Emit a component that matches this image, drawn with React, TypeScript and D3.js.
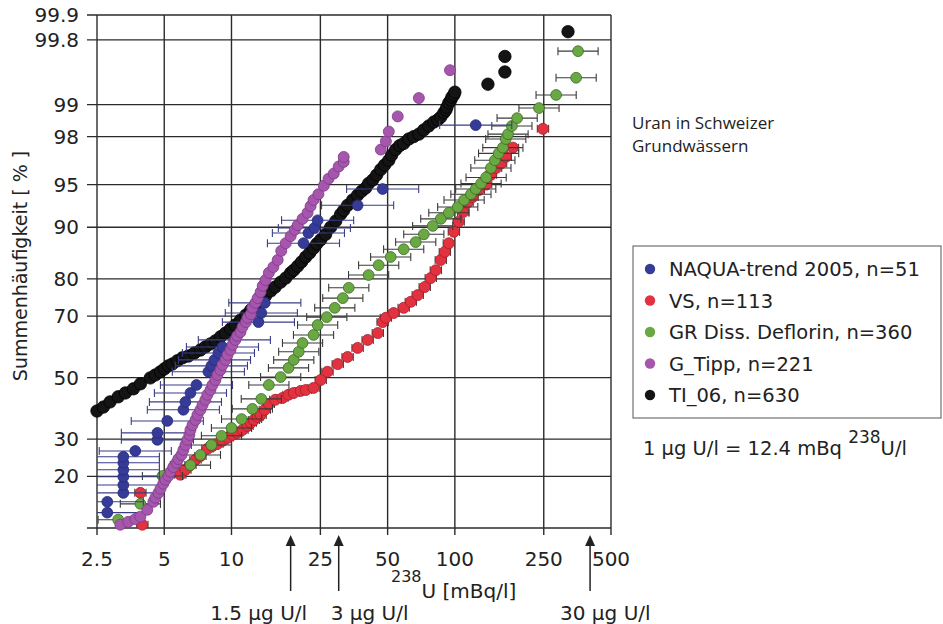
import React from "react";
import * as d3 from "d3";

// cumulative frequency plot: [238U in mBq/l, cumulative %]
const naqua: [number, number][] = [
  [2.78, 12.5], [2.78, 14.5], [3.28, 16.3], [3.28, 18.0], [3.28, 19.9], [3.28, 21.6], [3.28, 23.4],
  [3.28, 25.0], [3.71, 26.6], [4.66, 29.8], [4.66, 31.9], [5.16, 35.6], [6.09, 39.2], [6.22, 41.8],
  [6.55, 44.8], [6.97, 47.5], [7.88, 52.0], [8.13, 54.0], [8.39, 56.0], [8.74, 58.3], [9.11, 60.3],
  [10.3, 62.6], [13.2, 68.2], [13.6, 70.9], [14.1, 73.8], [21.0, 87.4], [22.1, 89.1], [23.5, 89.9],
  [24.3, 91.0], [36.7, 92.9], [47.5, 94.6], [124, 98.43],
];

const vs: [number, number][] = [
  [3.99, 10.5], [3.91, 16.3], [5.9, 20.4], [6.22, 21.6], [6.55, 22.8], [6.9, 24.2], [7.26, 25.2],
  [7.8, 27.2], [8.22, 28.0], [8.65, 28.6], [9.11, 29.5], [9.6, 30.4], [10.1, 31.3], [10.6, 31.9],
  [11.2, 32.8], [11.8, 34.0], [12.2, 35.0], [12.6, 35.9], [13.1, 36.9], [13.5, 37.5], [14.1, 39.2],
  [14.7, 41.1], [15.7, 42.5], [16.9, 43.1], [18.0, 44.2], [19.0, 44.8], [20.4, 45.5], [21.5, 45.8],
  [23.3, 46.5], [25.1, 49.2], [26.9, 52.0], [29.9, 54.6], [33.1, 57.0], [36.7, 60.0], [40.7, 62.6],
  [45.2, 64.8], [47.5, 68.2], [49.1, 69.5], [53.2, 70.9], [59.0, 72.4], [63.5, 74.1], [68.2, 75.9],
  [73.3, 78.0], [78.0, 80.2], [82.2, 82.0], [86.5, 84.2], [90.2, 85.8], [94.0, 87.4], [99.0, 89.3],
  [104, 90.8], [109, 92.1], [114, 93.2], [120, 93.8], [128, 94.5], [138, 95.0], [145, 95.8],
  [153, 96.3], [161, 96.6], [169, 97.0], [182, 97.5], [248, 98.3],
];

const grDeflorin: [number, number][] = [
  [3.11, 11.3], [3.91, 14.1], [4.91, 20.1], [6.55, 22.8], [7.26, 25.5], [8.13, 28.3], [9.02, 31.0],
  [10.0, 33.4], [11.1, 36.2], [12.4, 39.5], [13.6, 42.8], [14.7, 47.5], [16.6, 50.2], [18.0, 53.3],
  [19.0, 56.0], [20.0, 58.7], [20.8, 61.6], [23.3, 64.2], [24.3, 67.3], [26.7, 69.7], [29.0, 72.4],
  [31.5, 75.1], [33.5, 77.8], [41.1, 80.9], [45.6, 83.1], [51.6, 84.8], [59.0, 86.3], [66.8, 87.6],
  [72.6, 88.9], [79.6, 90.2], [86.5, 91.2], [94.0, 92.0], [103, 92.7], [110, 93.5], [118, 94.1],
  [124, 94.6], [131, 95.1], [138, 95.6], [145, 96.3], [151, 96.8], [157, 97.2], [164, 97.5],
  [169, 97.9], [173, 98.1], [180, 98.4], [190, 98.65], [238, 98.92], [284, 99.2], [349, 99.47],
  [356, 99.73],
];

const gTipp: [number, number][] = [
  [3.18, 10.5], [3.45, 10.95], [3.71, 11.4], [3.91, 11.8], [4.2, 13.0], [4.47, 14.5], [4.56, 15.3],
  [4.71, 16.3], [4.81, 17.2], [4.95, 18.3], [5.06, 19.2], [5.22, 20.1], [5.33, 21.1], [5.49, 22.3],
  [5.67, 23.4], [5.78, 24.4], [5.97, 25.5], [6.09, 26.9], [6.22, 28.3], [6.35, 29.8], [6.48, 31.3],
  [6.55, 32.8], [6.69, 34.3], [6.9, 35.9], [7.04, 37.5], [7.26, 39.2], [7.42, 40.8], [7.64, 42.5],
  [7.8, 44.2], [8.05, 45.8], [8.22, 47.5], [8.47, 49.2], [8.65, 50.9], [8.93, 52.6], [9.11, 54.3],
  [9.4, 56.0], [9.6, 57.7], [9.9, 59.3], [10.1, 61.0], [10.4, 62.6], [10.6, 63.9], [10.97, 65.1],
  [11.2, 66.7], [11.6, 68.2], [11.8, 69.5], [12.2, 70.6], [12.4, 72.4], [12.8, 73.8], [13.1, 75.1],
  [13.5, 76.7], [13.8, 78.3], [14.2, 79.7], [14.7, 81.4], [15.4, 82.7], [16.1, 84.2], [16.7, 86.0],
  [17.5, 87.4], [18.4, 88.6], [19.2, 89.6], [19.8, 90.3], [20.8, 91.2], [21.9, 92.0], [22.6, 92.8],
  [23.3, 93.5], [24.5, 94.1], [25.9, 94.9], [27.2, 95.5], [28.7, 95.9], [30.2, 96.4], [31.8, 96.7],
  [31.8, 97.0], [46.6, 97.4], [49.1, 97.8], [50.6, 98.2], [55.5, 98.7], [69.0, 99.14], [95.1, 99.56],
];

const ti06: [number, number][] = [
  [2.5, 38.8], [2.67, 40.1], [2.86, 41.8], [3.11, 43.5], [3.35, 44.8], [3.64, 46.2], [3.91, 47.9],
  [4.33, 49.9], [4.56, 50.9], [4.81, 52.0], [5.01, 53.0], [5.22, 54.0], [5.43, 54.6], [5.72, 55.7],
  [6.03, 56.7], [6.41, 57.3], [6.82, 58.3], [7.26, 59.3], [7.64, 60.3], [8.05, 61.3], [8.47, 62.3],
  [8.93, 63.6], [9.4, 64.8], [9.9, 66.1], [10.4, 67.3], [10.97, 68.8], [11.6, 70.3], [12.2, 71.8],
  [12.8, 73.2], [13.5, 74.6], [14.2, 75.7], [15.0, 77.0], [15.7, 78.0], [16.6, 79.2], [17.5, 80.2],
  [18.4, 81.4], [19.0, 82.0], [19.8, 82.9], [20.6, 83.8], [21.5, 84.8], [22.4, 85.6], [23.3, 86.5],
  [24.1, 87.3], [25.1, 88.0], [26.4, 88.9], [27.8, 90.0], [29.3, 90.9], [30.8, 91.8], [31.8, 92.3],
  [33.1, 92.9], [34.9, 93.5], [36.7, 94.0], [38.3, 94.4], [39.9, 94.7], [41.1, 95.1], [42.9, 95.4],
  [44.7, 95.8], [46.6, 96.2], [48.5, 96.5], [50.6, 96.8], [52.1, 97.1], [54.3, 97.4], [56.6, 97.6],
  [59.0, 97.7], [62.2, 97.9], [65.4, 98.0], [69.0, 98.1], [72.6, 98.26], [76.4, 98.4], [80.5, 98.53],
  [83.9, 98.6], [86.5, 98.68], [89.3, 98.8], [91.2, 98.87], [92.1, 98.94], [94.0, 99.04], [96.0, 99.1],
  [97.0, 99.16], [99.0, 99.2], [100, 99.25], [140.6, 99.38], [167.5, 99.54], [167.5, 99.69], [321, 99.84],
];

const xTicks = [2.5, 5, 10, 25, 50, 100, 250, 500];
const yTicks = [20, 30, 50, 70, 80, 90, 95, 98, 99, 99.8, 99.9];
const arrowValues = [18.4, 30.2, 403];
const arrowLabels = ["1.5 µg U/l", "3 µg U/l", "30 µg U/l"];

// inverse normal cdf (Acklam)
function probit(p: number) {
  const a = [-39.69683028665376, 220.9460984245205, -275.9285104469687, 138.357751867269, -30.66479806614716, 2.506628277459239];
  const b = [-54.47609879822406, 161.5858368580409, -155.6989798598866, 66.80131188771972, -13.28068155288572];
  const c = [-0.007784894002430293, -0.3223964580411365, -2.400758277161838, -2.549732539343734, 4.374664141464968, 2.938163982698783];
  const d = [0.007784695709041462, 0.3224671290700398, 2.445134137142996, 3.754408661907416];
  const pl = 0.02425;
  if (p < pl) {
    const q = Math.sqrt(-2 * Math.log(p));
    return (((((c[0] * q + c[1]) * q + c[2]) * q + c[3]) * q + c[4]) * q + c[5]) / ((((d[0] * q + d[1]) * q + d[2]) * q + d[3]) * q + 1);
  }
  if (p > 1 - pl) {
    const q = Math.sqrt(-2 * Math.log(1 - p));
    return -(((((c[0] * q + c[1]) * q + c[2]) * q + c[3]) * q + c[4]) * q + c[5]) / ((((d[0] * q + d[1]) * q + d[2]) * q + d[3]) * q + 1);
  }
  const q = p - 0.5;
  const r = q * q;
  return ((((((a[0] * r + a[1]) * r + a[2]) * r + a[3]) * r + a[4]) * r + a[5]) * q) / (((((b[0] * r + b[1]) * r + b[2]) * r + b[3]) * r + b[4]) * r + 1);
}

const W = 943;
const H = 624;
const plot = { left: 97, right: 611, top: 15, bottom: 528 };
const FONT = "'DejaVu Sans', Verdana, sans-serif";
const GRID = "#2b2b2b";

const x = d3.scaleLog().domain([2.5, 500]).range([plot.left, plot.right]);
const z = d3.scaleLinear().domain([probit(0.1), probit(0.999)]).range([plot.bottom, plot.top]);
const y = (p: number) => z(probit(p / 100));

const legend = [
  { label: "NAQUA-trend 2005, n=51", fill: "#363b98" },
  { label: "VS, n=113", fill: "#e2323f" },
  { label: "GR Diss. Deflorin, n=360", fill: "#6aa843" },
  { label: "G_Tipp, n=221", fill: "#a657ad" },
  { label: "TI_06, n=630", fill: "#141414" },
];

// drawing order (back to front)
const series = [
  { data: ti06, fill: "#141414", stroke: "#000", r: 6.2, err: 0, errColor: "" },
  { data: vs, fill: "#e2323f", stroke: "#a81c28", r: 5.5, err: 1.06, errColor: "#444" },
  { data: grDeflorin, fill: "#6aa843", stroke: "#3d6a22", r: 5.4, err: 1.23, errColor: "#3a3a3a" },
  { data: naqua, fill: "#363b98", stroke: "#262a78", r: 5.4, err: 1.45, errColor: "#3a3c88" },
  { data: gTipp, fill: "#a657ad", stroke: "#7c3a86", r: 5.5, err: 0, errColor: "" },
];

export default function App() {
  return (
    <svg width={W} height={H} style={{ position: "absolute", left: 0, top: 0, background: "#fff" }}>
      <defs>
        <clipPath id="plotClip">
          <rect x={plot.left} y={plot.top} width={plot.right - plot.left} height={plot.bottom - plot.top} />
        </clipPath>
      </defs>

      {/* grid */}
      {xTicks.map((t) => (
        <g key={"x" + t}>
          <line x1={x(t)} x2={x(t)} y1={plot.top} y2={plot.bottom + 7} stroke={GRID} strokeWidth={1.4} />
          <text x={x(t)} y={566} textAnchor="middle" fontFamily={FONT} fontSize={20} fill="#222">{t}</text>
        </g>
      ))}
      {yTicks.map((t) => (
        <g key={"y" + t}>
          <line x1={plot.left - 10} x2={plot.right} y1={y(t)} y2={y(t)} stroke={GRID} strokeWidth={1.4} />
          <text x={79} y={y(t) + 7} textAnchor="end" fontFamily={FONT} fontSize={20} fill="#222">{t}</text>
        </g>
      ))}
      <line x1={plot.left - 10} x2={plot.right} y1={plot.bottom} y2={plot.bottom} stroke={GRID} strokeWidth={1.6} />

      {/* series */}
      {series.map((s, i) => (
        <g key={i}>
          {s.err > 0 && (
            <g clipPath="url(#plotClip)" stroke={s.errColor} strokeWidth={1.1}>
              {s.data.map(([v, p], j) => {
                const x0 = x(v / s.err);
                const x1 = x(v * s.err);
                const yy = y(p);
                return (
                  <g key={j}>
                    <line x1={x0} x2={x1} y1={yy} y2={yy} />
                    <line x1={x0} x2={x0} y1={yy - 4} y2={yy + 4} />
                    <line x1={x1} x2={x1} y1={yy - 4} y2={yy + 4} />
                  </g>
                );
              })}
            </g>
          )}
          {s.data.map(([v, p], j) => (
            <circle key={j} cx={x(v)} cy={y(p)} r={s.r} fill={s.fill} stroke={s.stroke} strokeWidth={0.8} />
          ))}
        </g>
      ))}

      {/* axis titles */}
      <text transform="translate(27,266) rotate(-90)" textAnchor="middle" fontFamily={FONT} fontSize={19} fill="#222">
        Summenhäufigkeit [ % ]
      </text>
      <text x={391} y={598} fontFamily={FONT} fill="#222">
        <tspan fontSize={16} dy={-16}>238</tspan>
        <tspan fontSize={20} dy={16}>U [mBq/l]</tspan>
      </text>

      {/* reference arrows */}
      {arrowValues.map((v, i) => {
        const ax = x(v);
        const tx = i === 0 ? ax - 32 : i === 1 ? ax - 8 : ax - 30;
        return (
          <g key={"a" + i}>
            <line x1={ax} x2={ax} y1={544} y2={591} stroke="#222" strokeWidth={1.5} />
            <path d={`M${ax},535 L${ax - 5},546 L${ax + 5},546 Z`} fill="#222" />
            <text x={tx} y={620} textAnchor={i === 0 ? "middle" : "start"} fontFamily={FONT} fontSize={20} fill="#222">
              {arrowLabels[i]}
            </text>
          </g>
        );
      })}

      {/* title */}
      <text x={632} y={129} fontFamily="'Open Sans', 'Noto Sans', sans-serif" fontSize={17} fill="#222">Uran in Schweizer</text>
      <text x={632} y={152} fontFamily="'Open Sans', 'Noto Sans', sans-serif" fontSize={17} fill="#222">Grundwässern</text>

      {/* legend */}
      <rect x={633} y={246} width={308} height={172} fill="#fff" stroke="#555" strokeWidth={1} />
      {legend.map((l, i) => (
        <g key={"l" + i}>
          <circle cx={650} cy={269 + i * 31.5} r={5.2} fill={l.fill} />
          <text x={669} y={276 + i * 31.5} fontFamily={FONT} fontSize={19.5} fill="#222">{l.label}</text>
        </g>
      ))}

      <text x={643} y={455} fontFamily={FONT} fontSize={19.5} fill="#222">
        1 µg U/l = 12.4 mBq <tspan fontSize={17} dy={-12}>238</tspan>
        <tspan dy={12}>U/l</tspan>
      </text>
    </svg>
  );
}
